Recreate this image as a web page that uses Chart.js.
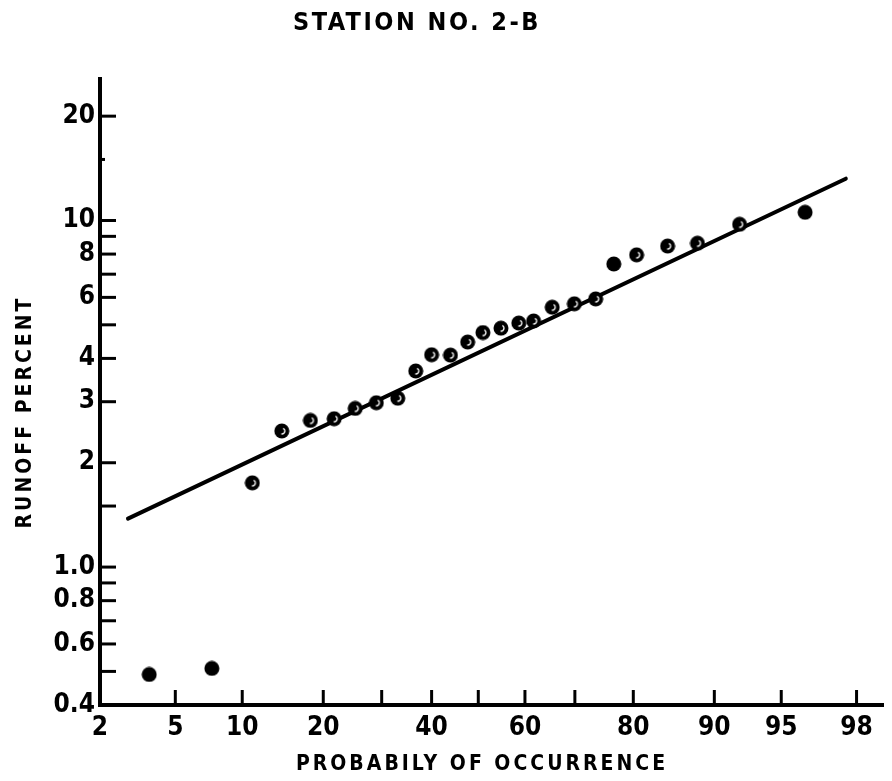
<!DOCTYPE html>
<html>
<head>
<meta charset="utf-8">
<script src="https://cdn.jsdelivr.net/npm/chart.js@4.4.0/dist/chart.umd.min.js"></script>
<style>
  html, body { margin: 0; padding: 0; background: #fff; }
</style>
</head>
<body>
<canvas id="chart" width="892" height="781"></canvas>
<script>
// values: probability of occurrence (%) and runoff percent
const probability = [3.7, 7.4, 11.0, 14.3, 18.1, 21.7, 25.2, 29.0, 33.1, 36.7, 40.0, 44.0, 47.7,
                     51.0, 54.9, 58.7, 61.8, 65.6, 69.9, 73.8, 76.9, 80.5, 84.8, 88.3, 92.2, 96.2];
const runoff = [0.49, 0.51, 1.75, 2.47, 2.65, 2.68, 2.87, 2.98, 3.07, 3.68, 4.10, 4.09, 4.46,
                4.75, 4.89, 5.06, 5.13, 5.62, 5.75, 5.94, 7.49, 7.96, 8.44, 8.60, 9.75, 10.56];
const solidPoints = [0, 1, 20, 25]; // fully inked symbols

// fitted line, its two drawn ends
const lineProb = [2.86, 97.7];
const lineRunoff = [1.38, 13.2];

// axes
const xRange = [2, 98.6];
const xTicks = [2, 5, 10, 20, 30, 40, 50, 60, 70, 80, 90, 95, 98];
const xTickLabels = ['2', '5', '10', '20', '', '40', '', '60', '', '80', '90', '95', '98'];
const yRange = [0.4, 25.6];
const yTicks = [0.4, 0.5, 0.6, 0.7, 0.8, 0.9, 1, 1.5, 2, 3, 4, 5, 6, 7, 8, 9, 10, 15, 20];
const yTickLabels = ['0.4', '', '0.6', '', '0.8', '', '1.0', '', '2', '3', '4', '', '6', '', '8', '', '10', '', '20'];
const yShortTicks = [15];

const FONT = "'DejaVu Sans Condensed', 'DejaVu Sans', sans-serif";
const TICK_FONT = "'Liberation Sans Narrow', 'DejaVu Sans Condensed', sans-serif";

// inverse normal cdf (Acklam) for the probability axis
function probit(p) {
  const a = [-3.969683028665376e+01, 2.209460984245205e+02, -2.759285104469687e+02, 1.383577518672690e+02, -3.066479806614716e+01, 2.506628277459239e+00];
  const b = [-5.447609879822406e+01, 1.615858368580409e+02, -1.556989798598866e+02, 6.680131188771972e+01, -1.328068155288572e+01];
  const c = [-7.784894002430293e-03, -3.223964580411365e-01, -2.400758277161838e+00, -2.549732539343734e+00, 4.374664141464968e+00, 2.938163982698783e+00];
  const d = [7.784695709041462e-03, 3.224671290700398e-01, 2.445134137142996e+00, 3.754408661907416e+00];
  const lo = 0.02425;
  let q, r;
  if (p < lo) {
    q = Math.sqrt(-2 * Math.log(p));
    return (((((c[0]*q+c[1])*q+c[2])*q+c[3])*q+c[4])*q+c[5]) / ((((d[0]*q+d[1])*q+d[2])*q+d[3])*q+1);
  }
  if (p > 1 - lo) {
    q = Math.sqrt(-2 * Math.log(1 - p));
    return -(((((c[0]*q+c[1])*q+c[2])*q+c[3])*q+c[4])*q+c[5]) / ((((d[0]*q+d[1])*q+d[2])*q+d[3])*q+1);
  }
  q = p - 0.5; r = q * q;
  return (((((a[0]*r+a[1])*r+a[2])*r+a[3])*r+a[4])*r+a[5])*q / (((((b[0]*r+b[1])*r+b[2])*r+b[3])*r+b[4])*r+1);
}
const z = p => probit(p / 100);

function makeDot(ring) {
  const c = document.createElement('canvas');
  c.width = 16; c.height = 16;
  const g = c.getContext('2d');
  g.fillStyle = '#000';
  g.beginPath(); g.arc(8, 8, 7.5, 0, Math.PI * 2); g.fill();
  if (ring) {
    g.strokeStyle = '#fff'; g.lineWidth = 1.3;
    g.beginPath(); g.arc(8, 8, 3, -0.35 * Math.PI, 0.55 * Math.PI); g.stroke();
  }
  return c;
}
const dotSolid = makeDot(false);
const dotRing = makeDot(true);

const frame = {
  id: 'frame',
  afterDraw(chart) {
    const {ctx, chartArea: a, scales: {x, y}} = chart;
    ctx.save();
    ctx.strokeStyle = '#000';
    ctx.lineWidth = 3;
    x.ticks.forEach(t => {
      const px = x.getPixelForValue(t.value);
      ctx.beginPath(); ctx.moveTo(px, a.bottom); ctx.lineTo(px, a.bottom - 15); ctx.stroke();
    });
    y.ticks.forEach(t => {
      const py = y.getPixelForValue(t.value);
      const len = yShortTicks.includes(t.value) ? 5 : 16;
      ctx.beginPath(); ctx.moveTo(a.left, py); ctx.lineTo(a.left + len, py); ctx.stroke();
    });

    ctx.fillStyle = '#000';
    ctx.textAlign = 'center';
    ctx.textBaseline = 'middle';
    ctx.font = 'bold 25px ' + FONT;
    ctx.letterSpacing = '2.5px';
    ctx.fillText('STATION NO. 2-B', 417, 23);

    ctx.font = 'bold 21px ' + FONT;
    ctx.letterSpacing = '3px';
    ctx.fillText('PROBABILY OF OCCURRENCE', 482, 765);

    ctx.translate(26, 412);
    ctx.rotate(-Math.PI / 2);
    ctx.fillText('RUNOFF PERCENT', 0, 0);
    ctx.restore();
  }
};

new Chart(document.getElementById('chart'), {
  type: 'scatter',
  data: {
    datasets: [
      {
        data: probability.map((p, i) => ({x: z(p), y: runoff[i]})),
        pointStyle: ctx => solidPoints.includes(ctx.dataIndex) ? dotSolid : dotRing,
        pointRadius: 8,
        backgroundColor: '#000',
        borderColor: '#000'
      },
      {
        data: lineProb.map((p, i) => ({x: z(p), y: lineRunoff[i]})),
        showLine: true,
        borderColor: '#000',
        borderWidth: 4,
        borderCapStyle: 'round',
        pointRadius: 0
      }
    ]
  },
  options: {
    responsive: false,
    animation: false,
    layout: {padding: {top: 79, right: 5, left: 0, bottom: 0}},
    plugins: {legend: {display: false}, tooltip: {enabled: false}},
    scales: {
      x: {
        type: 'linear',
        min: z(xRange[0]),
        max: z(xRange[1]),
        afterBuildTicks: s => { s.ticks = xTicks.map(p => ({value: z(p)})); },
        afterFit: s => { s.height = 76; },
        grid: {display: false, drawTicks: false},
        border: {display: true, color: '#000', width: 4},
        ticks: {
          autoSkip: false, maxRotation: 0, padding: 8, color: '#000',
          font: {family: TICK_FONT, size: 26, weight: 'bold'},
          callback: (v, i) => xTickLabels[i]
        }
      },
      y: {
        type: 'logarithmic',
        min: yRange[0],
        max: yRange[1],
        afterBuildTicks: s => { s.ticks = yTicks.map(v => ({value: v})); },
        afterFit: s => { s.width = 100; },
        grid: {display: false, drawTicks: false},
        border: {display: true, color: '#000', width: 4},
        ticks: {
          autoSkip: false, padding: 5, color: '#000',
          font: {family: TICK_FONT, size: 26, weight: 'bold'},
          callback: (v, i) => yTickLabels[i]
        }
      }
    }
  },
  plugins: [frame]
});
</script>
</body>
</html>
